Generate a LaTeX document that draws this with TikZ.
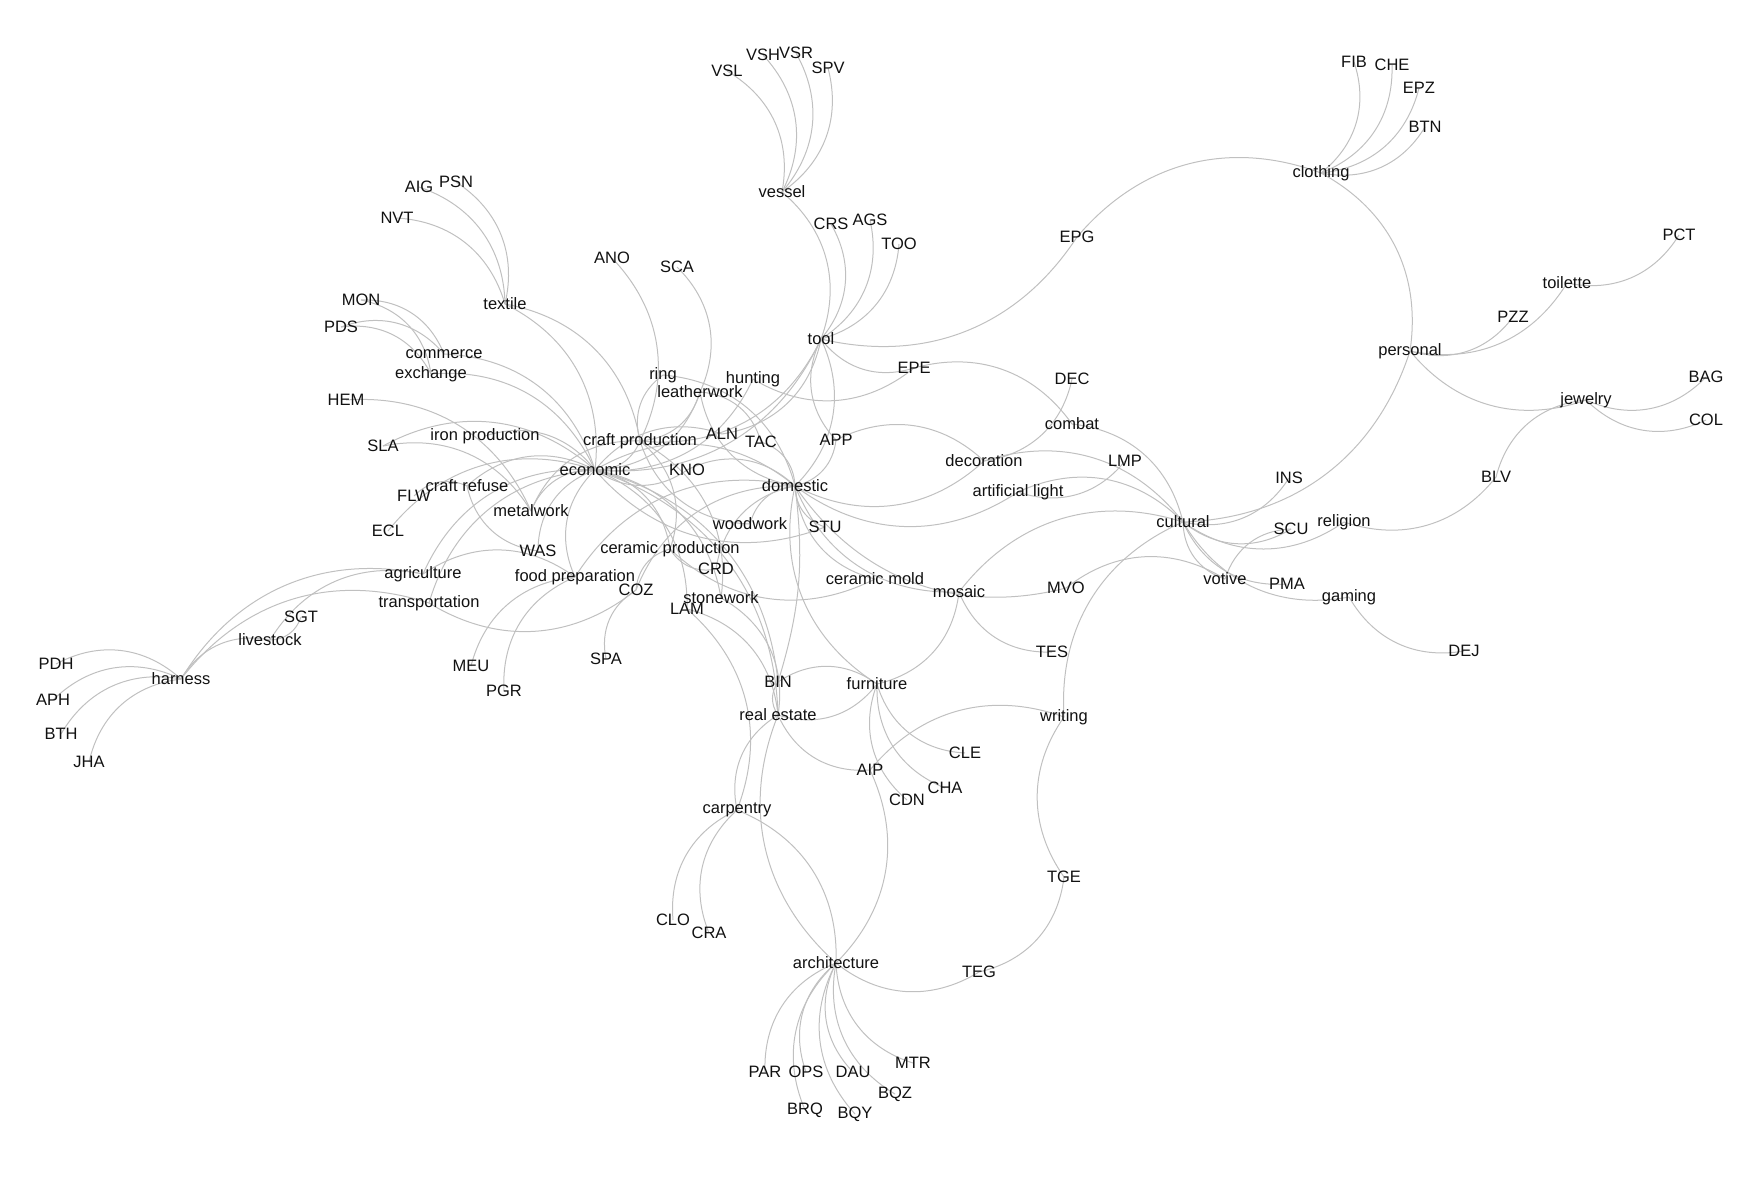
\documentclass[tikz,border=0pt]{standalone}
\usepackage{fontspec}
\setmainfont{Liberation Sans}
\usepackage{tikz}
\usetikzlibrary{backgrounds}
\definecolor{netGrey}{RGB}{192,192,192}
\definecolor{netInk}{HTML}{111111}

\begin{document}
\begin{tikzpicture}[
    x=1pt, y=-1pt,
    lbl/.style={
        inner sep=0pt,
        font=\fontsize{16.5}{19}\selectfont,
        text=netInk
    },
    link/.style={
        draw=netGrey,
        line width=1pt,
        bend left=35
    }
]
\useasboundingbox (0,0) rectangle (1760,1180);

% Nodes: vessel and tool
\node[lbl] (vsl) at (727,71) {VSL};
\node[lbl] (vsh) at (763,55) {VSH};
\node[lbl] (vsr) at (796,53) {VSR};
\node[lbl] (spv) at (828,68) {SPV};
\node[lbl] (vessel) at (782,192) {vessel};
\node[lbl] (crs) at (831,224) {CRS};
\node[lbl] (ags) at (870,220) {AGS};
\node[lbl] (too) at (899,244) {TOO};
\node[lbl] (tool) at (821,339) {tool};
\node[lbl] (epe) at (914,368) {EPE};
\node[lbl] (epg) at (1077,237) {EPG};

% Nodes: personal side
\node[lbl] (clothing) at (1321,173) {clothing};
\node[lbl] (fib) at (1354,62) {FIB};
\node[lbl] (che) at (1392,65) {CHE};
\node[lbl] (epz) at (1419,88) {EPZ};
\node[lbl] (btn) at (1425,127) {BTN};
\node[lbl] (pct) at (1679,235) {PCT};
\node[lbl] (toilette) at (1567,283) {toilette};
\node[lbl] (pzz) at (1513,317) {PZZ};
\node[lbl] (personal) at (1410,351) {personal};
\node[lbl] (jewelry) at (1586,400) {jewelry};
\node[lbl] (bag) at (1706,377) {BAG};
\node[lbl] (col) at (1706,420) {COL};
\node[lbl] (blv) at (1496,477) {BLV};

% Nodes: cultural side
\node[lbl] (ins) at (1289,478) {INS};
\node[lbl] (religion) at (1344,522) {religion};
\node[lbl] (scu) at (1291,529) {SCU};
\node[lbl] (cultural) at (1183,522) {cultural};
\node[lbl] (votive) at (1225,579) {votive};
\node[lbl] (pma) at (1287,584) {PMA};
\node[lbl] (gaming) at (1349,597) {gaming};
\node[lbl] (dej) at (1464,651) {DEJ};
\node[lbl] (dec) at (1072,379) {DEC};
\node[lbl] (combat) at (1072,424) {combat};
\node[lbl] (lmp) at (1125,461) {LMP};
\node[lbl] (decoration) at (984,461) {decoration};
\node[lbl] (artlight) at (1018,492) {artificial light};
\node[lbl] (ceramold) at (875,579) {ceramic mold};
\node[lbl] (mosaic) at (959,592) {mosaic};
\node[lbl] (mvo) at (1066,588) {MVO};
\node[lbl] (tes) at (1052,652) {TES};

% Nodes: centre
\node[lbl] (app) at (836,440) {APP};
\node[lbl] (tac) at (761,442) {TAC};
\node[lbl] (aln) at (722,434) {ALN};
\node[lbl] (hunting) at (753,379) {hunting};
\node[lbl] (ring) at (663,375) {ring};
\node[lbl] (leatherwork) at (700,392) {leatherwork};
\node[lbl] (ano) at (612,258) {ANO};
\node[lbl] (sca) at (677,267) {SCA};
\node[lbl] (craftprod) at (640,441) {craft production};
\node[lbl] (economic) at (595,470) {economic};
\node[lbl] (kno) at (687,470) {KNO};
\node[lbl] (domestic) at (795,486) {domestic};
\node[lbl] (woodwork) at (750,524) {woodwork};
\node[lbl] (stu) at (825,527) {STU};
\node[lbl] (ceramprod) at (670,549) {ceramic production};
\node[lbl] (crd) at (716,569) {CRD};
\node[lbl] (foodprep) at (575,577) {food preparation};
\node[lbl] (coz) at (636,590) {COZ};
\node[lbl] (stonework) at (721,598) {stonework};
\node[lbl] (lam) at (687,609) {LAM};
\node[lbl] (spa) at (606,659) {SPA};
\node[lbl] (meu) at (471,666) {MEU};
\node[lbl] (pgr) at (504,691) {PGR};

% Nodes: left side
\node[lbl] (textile) at (505,304) {textile};
\node[lbl] (aig) at (419,187) {AIG};
\node[lbl] (psn) at (456,182) {PSN};
\node[lbl] (nvt) at (397,218) {NVT};
\node[lbl] (mon) at (361,300) {MON};
\node[lbl] (pds) at (341,327) {PDS};
\node[lbl] (commerce) at (444,354) {commerce};
\node[lbl] (exchange) at (431,374) {exchange};
\node[lbl] (hem) at (346,400) {HEM};
\node[lbl] (ironprod) at (485,436) {iron production};
\node[lbl] (sla) at (383,446) {SLA};
\node[lbl] (craftref) at (467,486) {craft refuse};
\node[lbl] (flw) at (414,496) {FLW};
\node[lbl] (ecl) at (388,531) {ECL};
\node[lbl] (metalwork) at (531,511) {metalwork};
\node[lbl] (was) at (538,551) {WAS};
\node[lbl] (agriculture) at (423,574) {agriculture};
\node[lbl] (transport) at (429,603) {transportation};
\node[lbl] (sgt) at (301,617) {SGT};
\node[lbl] (livestock) at (270,640) {livestock};
\node[lbl] (harness) at (181,679) {harness};
\node[lbl] (pdh) at (56,664) {PDH};
\node[lbl] (aph) at (53,700) {APH};
\node[lbl] (bth) at (61,734) {BTH};
\node[lbl] (jha) at (89,762) {JHA};

% Nodes: lower part
\node[lbl] (bin) at (778,682) {BIN};
\node[lbl] (furniture) at (877,684) {furniture};
\node[lbl] (realestate) at (778,715) {real estate};
\node[lbl] (writing) at (1064,717) {writing};
\node[lbl] (cle) at (965,753) {CLE};
\node[lbl] (aip) at (870,770) {AIP};
\node[lbl] (cha) at (945,788) {CHA};
\node[lbl] (cdn) at (907,800) {CDN};
\node[lbl] (carpentry) at (737,810) {carpentry};
\node[lbl] (clo) at (673,920) {CLO};
\node[lbl] (cra) at (709,933) {CRA};
\node[lbl] (tge) at (1064,877) {TGE};
\node[lbl] (architecture) at (836,963) {architecture};
\node[lbl] (teg) at (979,972) {TEG};
\node[lbl] (par) at (765,1072) {PAR};
\node[lbl] (ops) at (806,1072) {OPS};
\node[lbl] (dau) at (853,1072) {DAU};
\node[lbl] (mtr) at (913,1063) {MTR};
\node[lbl] (bqz) at (895,1094) {BQZ};
\node[lbl] (brq) at (805,1110) {BRQ};
\node[lbl] (bqy) at (855,1114) {BQY};

\begin{scope}[on background layer]
% Links around vessel and tool
\draw[link] (vsl.center) to (vessel.center);
\draw[link] (vsh.center) to (vessel.center);
\draw[link] (vsr.center) to (vessel.center);
\draw[link] (spv.center) to (vessel.center);
\draw[link] (vessel.center) to (tool.center);
\draw[link] (crs.center) to (tool.center);
\draw[link] (ags.center) to (tool.center);
\draw[link] (too.center) to (tool.center);
\draw[link] (epg.center) to (tool.center);
\draw[link] (epe.center) to (tool.center);
\draw[link] (epe.center) to (hunting.center);
\draw[link] (epe.center) to (combat.center);
\draw[link] (app.center) to (tool.center);
\draw[link] (tool.center) to (aln.center);
\draw[link] (tool.center) to (craftprod.center);
\draw[link] (tool.center) to (economic.center);
\draw[link] (tool.center) to (domestic.center);

% Links around personal
\draw[link] (epg.center) to (clothing.center);
\draw[link] (fib.center) to (clothing.center);
\draw[link] (che.center) to (clothing.center);
\draw[link] (epz.center) to (clothing.center);
\draw[link] (btn.center) to (clothing.center);
\draw[link] (clothing.center) to (personal.center);
\draw[link] (pzz.center) to (personal.center);
\draw[link] (toilette.center) to (personal.center);
\draw[link] (pct.center) to (toilette.center);
\draw[link] (jewelry.center) to (personal.center);
\draw[link] (bag.center) to (jewelry.center);
\draw[link] (col.center) to (jewelry.center);
\draw[link] (blv.center) to (jewelry.center);
\draw[link] (blv.center) to (religion.center);
\draw[link] (personal.center) to (cultural.center);

% Links around cultural
\draw[link] (ins.center) to (cultural.center);
\draw[link] (scu.center) to (cultural.center);
\draw[link] (religion.center) to (cultural.center);
\draw[link] (votive.center) to (cultural.center);
\draw[link] (votive.center) to (scu.center);
\draw[link] (pma.center) to (cultural.center);
\draw[link] (gaming.center) to (cultural.center);
\draw[link] (dej.center) to (gaming.center);
\draw[link] (mvo.center) to (votive.center);
\draw[link] (mosaic.center) to (cultural.center);
\draw[link] (combat.center) to (cultural.center);
\draw[link] (dec.center) to (decoration.center);
\draw[link] (decoration.center) to (cultural.center);
\draw[link] (lmp.center) to (artlight.center);
\draw[link] (artlight.center) to (cultural.center);
\draw[link] (app.center) to (decoration.center);
\draw[link] (decoration.center) to (domestic.center);
\draw[link] (artlight.center) to (domestic.center);
\draw[link] (writing.center) to (cultural.center);
\draw[link] (tes.center) to (mosaic.center);
\draw[link] (mosaic.center) to (domestic.center);
\draw[link] (mvo.center) to (domestic.center);
\draw[link] (ceramold.center) to (domestic.center);
\draw[link] (ceramold.center) to (ceramprod.center);

% Links around domestic
\draw[link] (app.center) to (domestic.center);
\draw[link] (tac.center) to (domestic.center);
\draw[link] (leatherwork.center) to (tac.center);
\draw[link] (domestic.center) to (leatherwork.center);
\draw[link] (ring.center) to (domestic.center);
\draw[link] (kno.center) to (domestic.center);
\draw[link] (stu.center) to (domestic.center);
\draw[link] (woodwork.center) to (domestic.center);
\draw[link] (crd.center) to (domestic.center);
\draw[link] (coz.center) to (domestic.center);
\draw[link] (foodprep.center) to (domestic.center);
\draw[link] (economic.center) to (domestic.center);
\draw[link] (furniture.center) to (domestic.center);
\draw[link, bend left=12] (domestic.center) to (bin.center);

% Links around economic and craft production
\draw[link] (aig.center) to (textile.center);
\draw[link] (psn.center) to (textile.center);
\draw[link] (nvt.center) to (textile.center);
\draw[link] (textile.center) to (economic.center);
\draw[link] (textile.center) to (craftprod.center);
\draw[link] (mon.center) to (commerce.center);
\draw[link] (mon.center) to (exchange.center);
\draw[link] (pds.center) to (commerce.center);
\draw[link] (pds.center) to (exchange.center);
\draw[link] (commerce.center) to (economic.center);
\draw[link] (exchange.center) to (economic.center);
\draw[link] (hem.center) to (metalwork.center);
\draw[link] (sla.center) to (metalwork.center);
\draw[link] (sla.center) to (economic.center);
\draw[link] (ironprod.center) to (economic.center);
\draw[link] (metalwork.center) to (economic.center);
\draw[link] (metalwork.center) to (craftprod.center);
\draw[link] (flw.center) to (craftref.center);
\draw[link] (craftref.center) to (economic.center);
\draw[link] (ecl.center) to (economic.center);
\draw[link] (was.center) to (craftref.center);
\draw[link] (was.center) to (economic.center);
\draw[link] (ano.center) to (craftprod.center);
\draw[link] (sca.center) to (leatherwork.center);
\draw[link] (leatherwork.center) to (craftprod.center);
\draw[link] (leatherwork.center) to (economic.center);
\draw[link] (craftprod.center) to (ring.center);
\draw[link] (hunting.center) to (economic.center);
\draw[link] (economic.center) to (aln.center);
\draw[link] (kno.center) to (economic.center);
\draw[link] (stu.center) to (economic.center);
\draw[link] (craftprod.center) to (economic.center);
\draw[link] (woodwork.center) to (craftprod.center);
\draw[link] (craftprod.center) to (ceramprod.center);
\draw[link] (economic.center) to (ceramprod.center);
\draw[link] (crd.center) to (ceramprod.center);
\draw[link] (coz.center) to (ceramprod.center);
\draw[link] (spa.center) to (coz.center);
\draw[link] (craftprod.center) to (stonework.center);
\draw[link] (economic.center) to (stonework.center);
\draw[link] (economic.center) to (lam.center);
\draw[link] (economic.center) to (bin.center);
\draw[link] (economic.center) to (realestate.center);

% Links around agriculture and harness
\draw[link] (agriculture.center) to (economic.center);
\draw[link] (agriculture.center) to (foodprep.center);
\draw[link] (transport.center) to (economic.center);
\draw[link] (coz.center) to (transport.center);
\draw[link] (meu.center) to (foodprep.center);
\draw[link] (pgr.center) to (foodprep.center);
\draw[link] (foodprep.center) to (economic.center);
\draw[link] (harness.center) to (agriculture.center);
\draw[link] (harness.center) to (transport.center);
\draw[link] (harness.center) to (livestock.center);
\draw[link] (livestock.center) to (agriculture.center);
\draw[link] (sgt.center) to (livestock.center);
\draw[link] (pdh.center) to (harness.center);
\draw[link] (aph.center) to (harness.center);
\draw[link] (bth.center) to (harness.center);
\draw[link] (jha.center) to (harness.center);

% Links around real estate and architecture
\draw[link] (stonework.center) to (realestate.center);
\draw[link] (lam.center) to (realestate.center);
\draw[link] (lam.center) to (carpentry.center);
\draw[link] (realestate.center) to (bin.center);
\draw[link] (bin.center) to (furniture.center);
\draw[link] (furniture.center) to (realestate.center);
\draw[link] (mosaic.center) to (furniture.center);
\draw[link] (cle.center) to (furniture.center);
\draw[link] (cha.center) to (furniture.center);
\draw[link] (cdn.center) to (furniture.center);
\draw[link] (aip.center) to (realestate.center);
\draw[link] (aip.center) to (writing.center);
\draw[link] (aip.center) to (architecture.center);
\draw[link] (tge.center) to (writing.center);
\draw[link] (tge.center) to (teg.center);
\draw[link] (teg.center) to (architecture.center);
\draw[link] (carpentry.center) to (realestate.center);
\draw[link] (architecture.center) to (realestate.center);
\draw[link] (carpentry.center) to (architecture.center);
\draw[link] (clo.center) to (carpentry.center);
\draw[link] (cra.center) to (carpentry.center);
\draw[link] (par.center) to (architecture.center);
\draw[link] (ops.center) to (architecture.center);
\draw[link] (brq.center) to (architecture.center);
\draw[link] (dau.center) to (architecture.center);
\draw[link] (bqy.center) to (architecture.center);
\draw[link] (bqz.center) to (architecture.center);
\draw[link] (mtr.center) to (architecture.center);
\end{scope}

\end{tikzpicture}
\end{document}
